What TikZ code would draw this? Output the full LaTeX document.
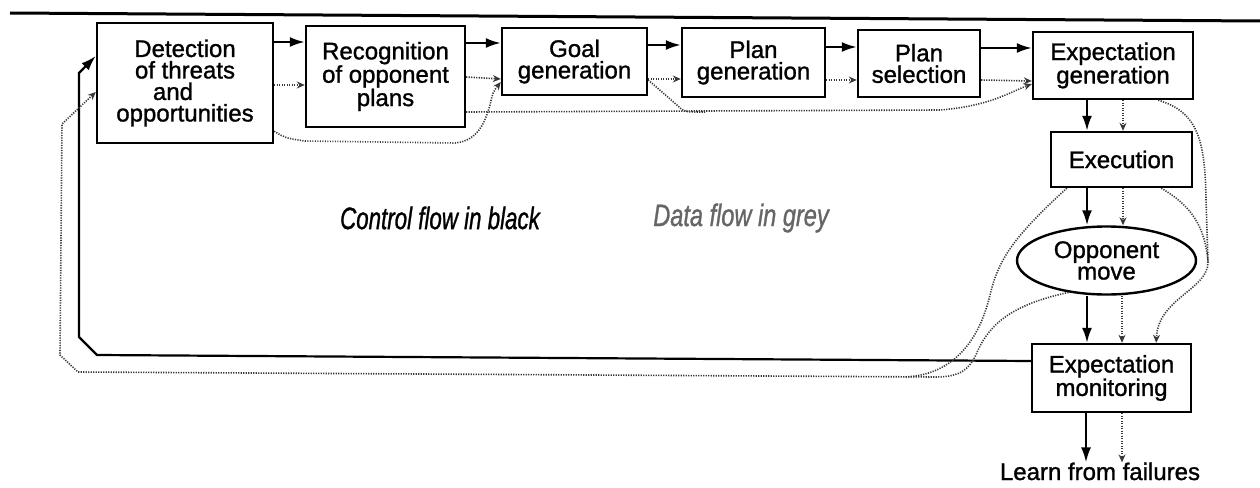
\documentclass[tikz,border=0pt]{standalone}
\usepackage{fontspec}
\setmainfont{Liberation Sans}[FakeBold=1.2]
\usepackage{graphicx}
\usetikzlibrary{arrows.meta,shapes.geometric}

\newcommand\boxfont{\fontsize{24}{21.5}\selectfont}
\newcommand\notefont{\fontsize{31}{31}\selectfont\itshape}

\begin{document}
\begin{tikzpicture}[x=1pt,y=-1pt,
  box/.style={draw, line width=2.4pt, inner sep=0pt, align=center, font=\boxfont},
  cflow/.style={line width=2.2pt, -{Latex[length=15pt,width=10pt]}},
  dflow/.style={line width=1.6pt, black!78, dash pattern=on 1.2pt off 1.3pt,
                -{Stealth[length=8pt,width=7pt]}},
  dline/.style={line width=1.6pt, black!78, dash pattern=on 1.2pt off 1.3pt}]

\useasboundingbox (0,0) rectangle (1260,487);

% page rule
\draw[line width=3pt] (10,13) -- (1260,21);

% processing stages
\node[box, minimum width=176pt, minimum height=120pt] (det) at (185,83)
  {Detection\\of threats\\and\rule{24pt}{0pt}\\opportunities};
\node[box, minimum width=159pt, minimum height=101pt] (rec) at (385.5,76.5)
  {Recognition\\of opponent\\plans};
\node[box, minimum width=145pt, minimum height=67pt] (goal) at (574.5,61.5)
  {Goal\\generation};
\node[box, minimum width=143pt, minimum height=69pt] (pgen) at (753.5,62.5)
  {Plan\\generation};
\node[box, minimum width=122pt, minimum height=67pt] (psel) at (919,63.5)
  {Plan\\selection};
\node[box, minimum width=160pt, minimum height=67pt] (egen) at (1113,65.5)
  {Expectation\\generation};
\node[box, minimum width=141pt, minimum height=55pt] (exec) at (1121.5,159.5)
  {Execution};
\node[box, ellipse, minimum width=179pt, minimum height=68pt] (opp) at (1106.5,260.5)
  {Opponent\\move};
\node[box, minimum width=159pt, minimum height=68pt] (mon) at (1111.5,378)
  {Expectation\\monitoring};
\node[font=\boxfont, inner sep=0pt, anchor=base] (learn) at (1100,480)
  {Learn from failures};

% legend
\node[inner sep=0pt] (ctl) at (440,218)
  {\scalebox{0.72}[1]{\notefont Control flow in black}};
\node[inner sep=0pt, text=black!60] (dat) at (741,218)
  {\scalebox{0.76}[1]{\notefont Data flow in grey}};

% control flow
\draw[cflow] (det.east |- 0,42) -- (rec.west |- 0,42);
\draw[cflow] (rec.east |- 0,43) -- (goal.west |- 0,43);
\draw[cflow] (goal.east |- 0,45) -- (pgen.west |- 0,45);
\draw[cflow] (pgen.east |- 0,47) -- (psel.west |- 0,47);
\draw[cflow] (psel.east |- 0,48) -- (egen.west |- 0,48);
\draw[cflow] (egen.south -| 1087,0) -- (exec.north -| 1087,0);
\draw[cflow] (exec.south -| 1087,0) -- (opp.north -| 1087,0);
\draw[cflow] (opp.south -| 1087,0) -- (mon.north -| 1087,0);
\draw[cflow] (mon.south -| 1086,0) -- (learn.north -| 1086,0);
\draw[cflow] (mon.west |- 0,361) -- (97,355) -- (79,337) -- (79,73) -- (det.west |- 0,56);

% data flow along the top row
\draw[dflow] (det.east |- 0,85) -- (rec.west |- 0,85);
\draw[dflow] (rec.east |- 0,77) -- (goal.west |- 0,79);
\draw[dflow] (goal.east |- 0,79) -- (pgen.west |- 0,79);
\draw[dflow] (pgen.east |- 0,80) -- (psel.west |- 0,80);
\draw[dflow] (psel.east |- 0,80) -- (egen.west |- 0,81);
\draw[dflow] ([yshift=13pt]det.south east) .. controls (285,138) .. (305,141)
  -- (455,143) .. controls (478,141) and (485,122) .. (490,105)
  .. controls (493,92) .. (goal.west |- 0,82);
\draw[dflow] (rec.east |- 0,112) -- (940,110)
  .. controls (990,106) and (1010,92) .. (egen.west |- 0,84);
\draw[dline] (goal.east |- 0,80) -- (678,106) .. controls (684,112) .. (705,112);

% data flow down the right column
\draw[dflow] (egen.south -| 1123,0) -- (exec.north -| 1123,0);
\draw[dflow] (exec.south -| 1123,0) -- (opp.north -| 1123,0);
\draw[dflow] (opp.south -| 1122,0) -- (mon.north -| 1122,0);
\draw[dflow] (mon.south -| 1122,0) -- (learn.north -| 1122,0);
\draw[dflow] ([xshift=-36pt]egen.south east) .. controls (1198,112) and (1205,140) .. (1206,200)
  -- (1208,262) .. controls (1208,290) and (1158,298) .. ([xshift=-36pt]mon.north east);
\draw[dline] ([xshift=-32pt]exec.south east) .. controls (1190,205) and (1205,225) .. (1208,262);

% data flow back to the start
\draw[dline] ([xshift=17pt]exec.south west) .. controls (1010,240) and (998,262) .. (990,295)
  .. controls (978,345) and (950,375) .. (905,377);
\draw[dflow] (opp.220) .. controls (1010,305) and (990,325) .. (978,350)
  .. controls (970,370) and (960,377) .. (935,377)
  -- (78,372) -- (60,355) -- (62,124) -- (det.west |- 0,92);

\end{tikzpicture}
\end{document}
